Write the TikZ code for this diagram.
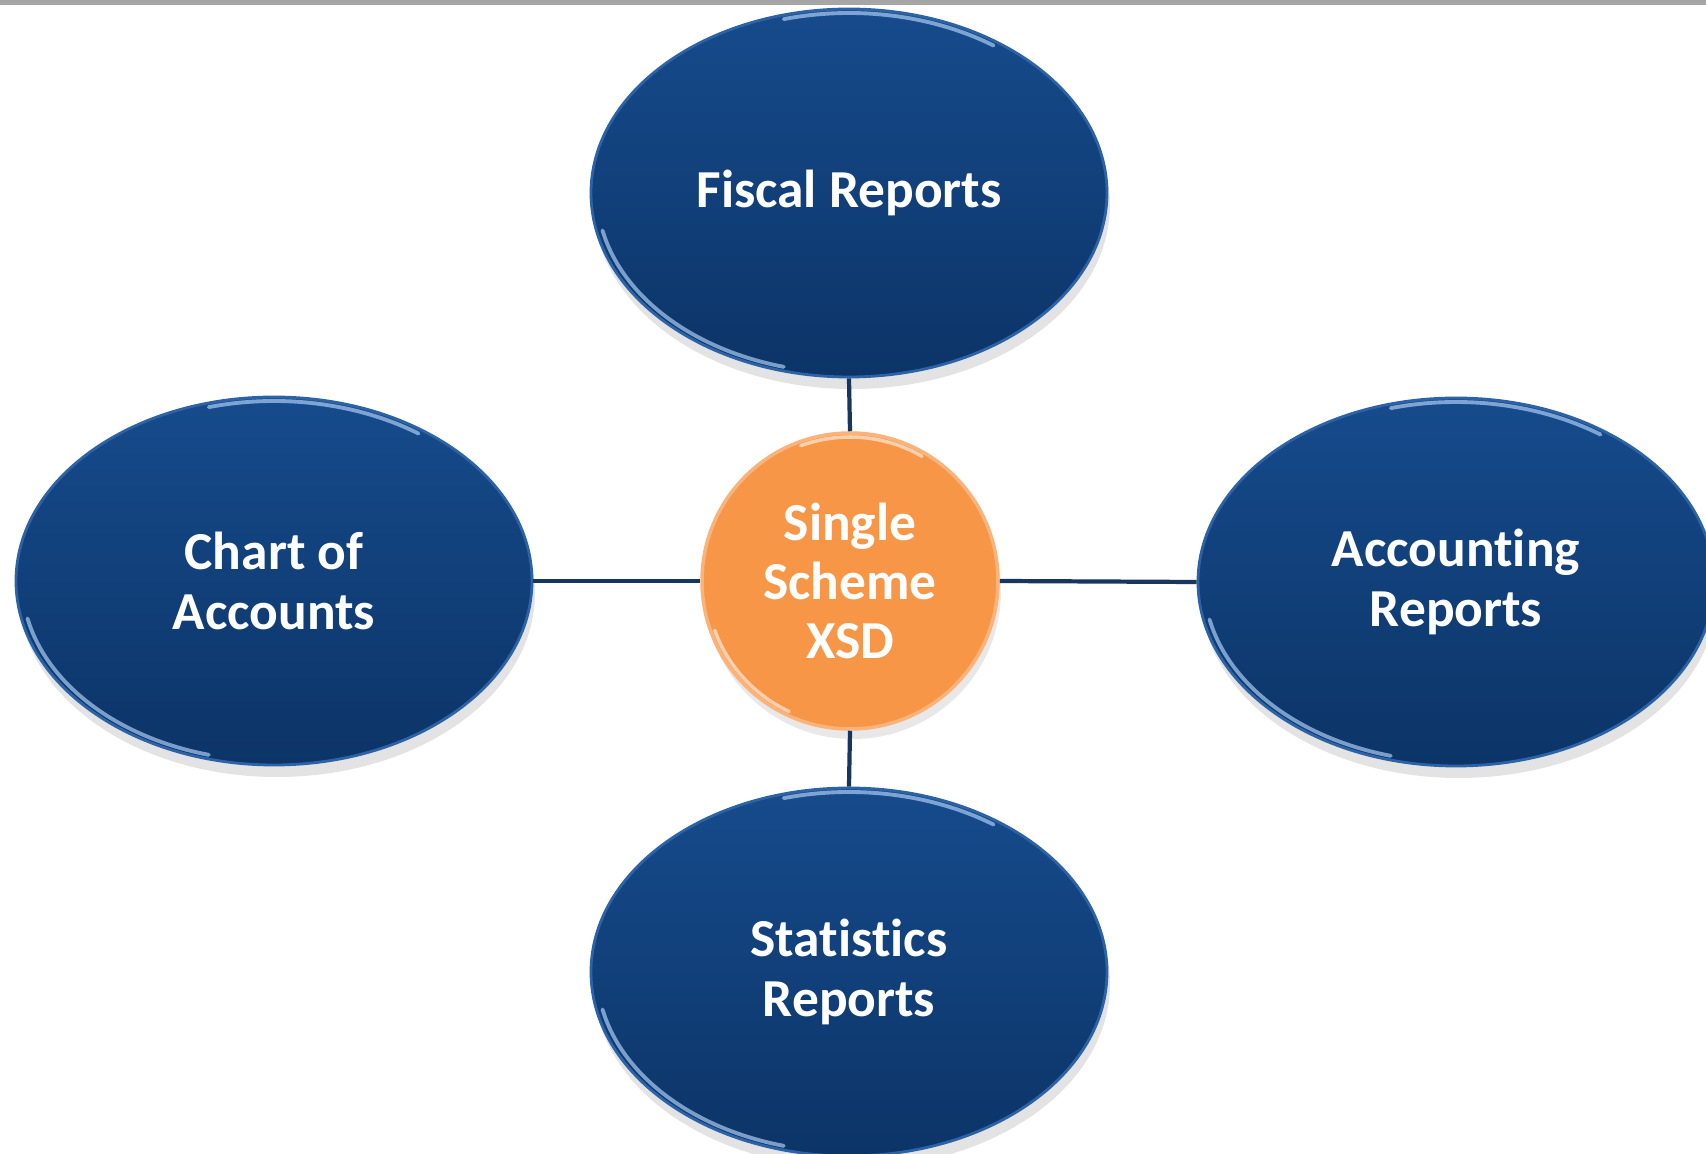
\documentclass[tikz,border=0pt]{standalone}
\usepackage{fontspec}
\setmainfont[Ligatures=NoCommon,RawFeature=-liga]{Carlito}
\usetikzlibrary{shapes.geometric,shadows}
\definecolor{navytop}{HTML}{164B8C}
\definecolor{navybot}{HTML}{0C3467}
\definecolor{navyrim}{HTML}{2C62A6}
\definecolor{rimlight}{HTML}{A9CBF2}
\definecolor{connline}{HTML}{17365F}
\definecolor{orangefill}{HTML}{F79646}
\definecolor{orangerim}{HTML}{FAB37A}
\definecolor{topbar}{HTML}{A6A6A6}
\tikzset{
  bubble/.style={ellipse, minimum width=51.6mm, minimum height=36.8mm, inner sep=0pt,
    top color=navytop, bottom color=navybot, draw=navyrim, line width=0.8pt,
    text=white, font=\fontsize{15.2}{17}\selectfont\bfseries, align=center,
    drop shadow={opacity=0.22, shadow xshift=0.3mm, shadow yshift=-1.2mm}},
  hub/.style={circle, minimum size=29.6mm, inner sep=0pt,
    fill=orangefill, draw=orangerim, line width=1pt,
    text=white, font=\fontsize{15.2}{16.8}\selectfont\bfseries, align=center,
    drop shadow={opacity=0.18, shadow xshift=0.3mm, shadow yshift=-1mm}},
  conn/.style={draw=connline, line width=1.2pt},
  rimhl/.style={draw=rimlight, line width=1.1pt, line cap=round, opacity=0.7},
  hubhl/.style={draw=white, line width=1pt, line cap=round, opacity=0.55}
}
\begin{document}
\begin{tikzpicture}[x=0.1mm,y=-0.1mm]
\useasboundingbox (0,0) rectangle (1706,1154);
\fill[white] (0,0) rectangle (1706,1154);
\fill[topbar] (0,0) rectangle (1706,5);

\node[bubble] (fiscal) at (849,193) {Fiscal Reports};
\node[bubble] (chart) at (274,581) {Chart of\\Accounts};
\node[bubble] (acct) at (1456,582) {Accounting\\Reports};
\node[bubble] (stats) at (849,972) {Statistics\\Reports};
\node[hub] (hub) at (850,581) {Single\\Scheme\\XSD};

% rim highlights
\foreach \n in {fiscal,chart,acct,stats}{
  \draw[rimhl] (\n.center) ++(105:25.2mm and 18mm) arc[start angle=105, end angle=55, x radius=25.2mm, y radius=18mm];
  \draw[rimhl] (\n.center) ++(192:25.2mm and 18mm) arc[start angle=192, end angle=255, x radius=25.2mm, y radius=18mm];
}
\draw[hubhl] (hub.center) ++(110:14.4mm) arc[start angle=110, end angle=60, radius=14.4mm];
\draw[hubhl] (hub.center) ++(200:14.4mm) arc[start angle=200, end angle=245, radius=14.4mm];

% connectors
\draw[conn] (fiscal.south) -- (hub.north);
\draw[conn] (hub.south) -- (stats.north);
\draw[conn] (chart.east) -- (hub.west);
\draw[conn] (hub.east) -- (acct.west);
\end{tikzpicture}
\end{document}
